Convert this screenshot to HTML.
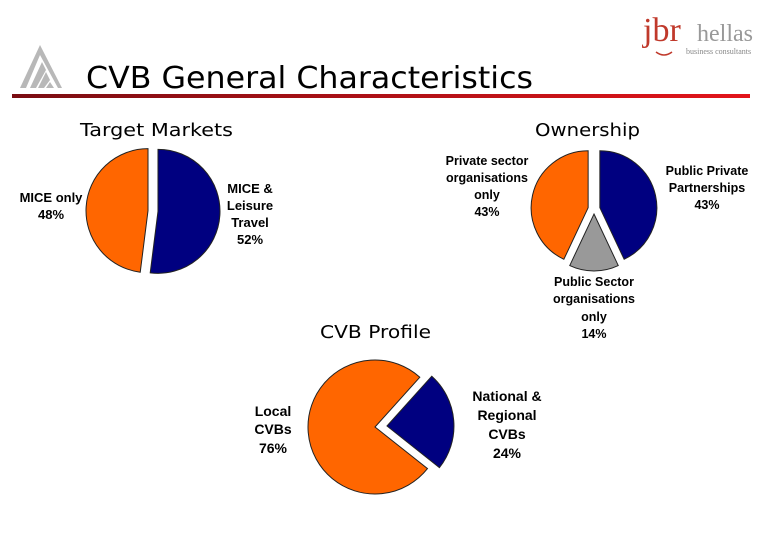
<!DOCTYPE html>
<html><head><meta charset="utf-8"><style>
html,body{margin:0;padding:0;background:#fff;}
body{width:780px;height:540px;overflow:hidden;position:relative;}
svg{position:absolute;left:0;top:0;}
</style></head><body>
<svg width="780" height="540" font-family="'Liberation Sans', Arial, sans-serif">
<defs>
<linearGradient id="rl" x1="0" x2="1" y1="0" y2="0"><stop offset="0" stop-color="#7a0d12"/><stop offset="1" stop-color="#e3141a"/></linearGradient>
</defs>
<g fill="#b8b8b8">
<polygon points="20,88 40,45 62,88 58,88 40,55 26,88"/>
<polygon points="30,88 42,62 46,70 36,88"/>
<polygon points="38,88 46,72 50,80 44,88"/>
<polygon points="46,88 50,82 54,88"/>
</g>
<text x="86" y="88" font-family="'DejaVu Sans', sans-serif" font-size="30" textLength="447" lengthAdjust="spacingAndGlyphs" fill="#000">CVB General Characteristics</text>
<rect x="12" y="94" width="738" height="4" fill="url(#rl)"/>
<g>
<text x="643" y="41" font-family="'Liberation Serif', serif" font-size="34" fill="#c0392b">jbr</text>
<text x="697" y="41" font-family="'Liberation Serif', serif" font-size="24" fill="#999">hellas</text>
<text x="686" y="54" font-family="'Liberation Serif', serif" font-size="8" fill="#888">business consultants</text>
<path d="M656,52 Q664,58 672,52" stroke="#c0392b" stroke-width="1.5" fill="none"/>
</g>
<text x="80" y="136" font-family="'DejaVu Sans', sans-serif" font-size="18" textLength="153" lengthAdjust="spacingAndGlyphs">Target Markets</text>
<text x="535" y="136" font-family="'DejaVu Sans', sans-serif" font-size="18" textLength="105" lengthAdjust="spacingAndGlyphs">Ownership</text>
<text x="320" y="338" font-family="'DejaVu Sans', sans-serif" font-size="18" textLength="111" lengthAdjust="spacingAndGlyphs">CVB Profile</text>
<g id="charts"></g>
<g font-weight="bold" font-size="13" text-anchor="middle" fill="#000">
<text><tspan x="51" y="202">MICE only</tspan><tspan x="51" y="219">48%</tspan></text>
<text><tspan x="250" y="193">MICE &amp;</tspan><tspan x="250" y="210">Leisure</tspan><tspan x="250" y="227">Travel</tspan><tspan x="250" y="244">52%</tspan></text>
<text font-size="12.5"><tspan x="487" y="165">Private sector</tspan><tspan x="487" y="182">organisations</tspan><tspan x="487" y="199">only</tspan><tspan x="487" y="216">43%</tspan></text>
<text font-size="12.5"><tspan x="707" y="175">Public Private</tspan><tspan x="707" y="192">Partnerships</tspan><tspan x="707" y="209">43%</tspan></text>
<text font-size="12.5"><tspan x="594" y="286">Public Sector</tspan><tspan x="594" y="303">organisations</tspan><tspan x="594" y="321">only</tspan><tspan x="594" y="338">14%</tspan></text>
<text font-size="14"><tspan x="273" y="416">Local</tspan><tspan x="273" y="434">CVBs</tspan><tspan x="273" y="453">76%</tspan></text>
<text font-size="14"><tspan x="507" y="401">National &amp;</tspan><tspan x="507" y="420">Regional</tspan><tspan x="507" y="439">CVBs</tspan><tspan x="507" y="458">24%</tspan></text>
</g>
</svg>
<script>
const targetCategories = ["MICE & Leisure Travel", "MICE only"];
const targetValues = [52, 48];
const ownershipCategories = ["Public Private Partnerships", "Public Sector organisations only", "Private sector organisations only"];
const ownershipValues = [43, 14, 43];
const profileCategories = ["National & Regional CVBs", "Local CVBs"];
const profileValues = [24, 76];

const NS = "http://www.w3.org/2000/svg";
const root = document.getElementById('charts');
function pie(name, cats, vals, colors, cx, cy, r, startDeg, explode) {
  const g = document.createElementNS(NS, 'g');
  
  
  root.appendChild(g);
  const total = vals.reduce((a, b) => a + b, 0);
  let a0 = startDeg * Math.PI / 180;
  vals.forEach((v, i) => {
    const span = v / total * 2 * Math.PI;
    const a1 = a0 + span, mid = a0 + span / 2;
    const ex = explode[i];
    const ox = cx + ex * Math.sin(mid), oy = cy - ex * Math.cos(mid);
    const x0 = ox + r * Math.sin(a0), y0 = oy - r * Math.cos(a0);
    const x1 = ox + r * Math.sin(a1), y1 = oy - r * Math.cos(a1);
    const p = document.createElementNS(NS, 'path');
    p.setAttribute('d', `M${ox},${oy} L${x0},${y0} A${r},${r} 0 ${span > Math.PI ? 1 : 0} 1 ${x1},${y1} Z`);
    p.setAttribute('fill', colors[i]);
    p.setAttribute('stroke', '#222');
    p.setAttribute('stroke-width', '1');
    
    
    g.appendChild(p);
    a0 = a1;
  });
}
pie('target-markets-pie', targetCategories, targetValues, ['#000080', '#ff6600'], 153, 211, 62, 0, [5, 5]);
pie('ownership-pie', ownershipCategories, ownershipValues, ['#000080', '#999999', '#ff6600'], 594, 209, 57, 0, [6, 5, 6]);
pie('cvb-profile-pie', profileCategories, profileValues, ['#000080', '#ff6600'], 375, 427, 67, 42, [12, 0]);
</script>
</body></html>
